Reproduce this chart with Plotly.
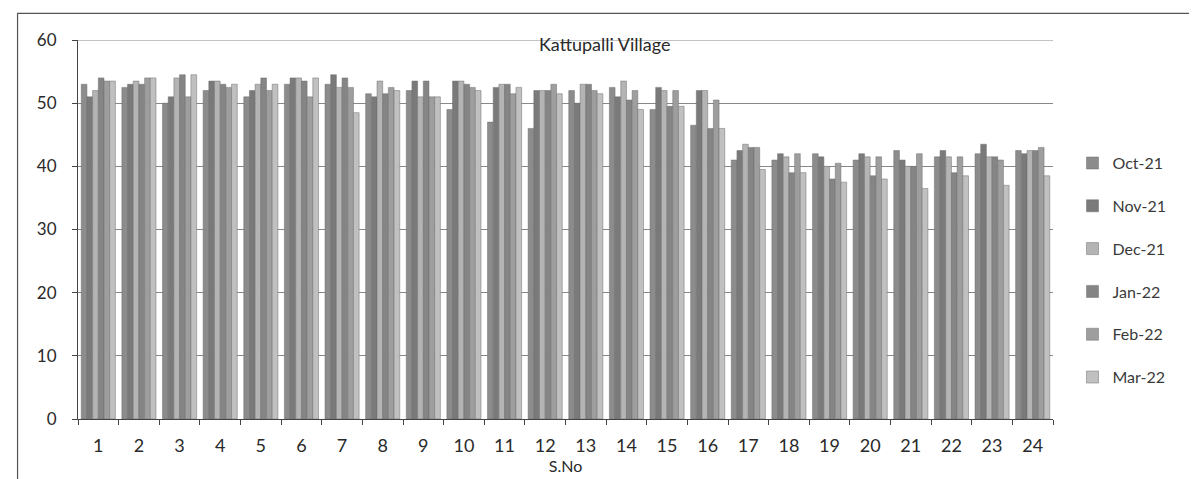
import plotly.graph_objects as go

SNO = [str(i) for i in range(1, 25)]

OCT_21 = [53, 52.5, 50, 52, 51, 53, 53, 51.5, 52, 49, 47, 46, 52, 52.5, 49, 46.5, 41, 41, 42, 41, 42.5, 41.5, 42, 42.5]
NOV_21 = [51, 53, 51, 53.5, 52, 54, 54.5, 51, 53.5, 53.5, 52.5, 52, 50, 51, 52.5, 52, 42.5, 42, 41.5, 42, 41, 42.5, 43.5, 42]
DEC_21 = [52, 53.5, 54, 53.5, 53, 54, 52.5, 53.5, 51, 53.5, 53, 52, 53, 53.5, 52, 52, 43.5, 41.5, 40, 41.5, 40, 41.5, 41.5, 42.5]
JAN_22 = [54, 53, 54.5, 53, 54, 53.5, 54, 51.5, 53.5, 53, 53, 52, 53, 50.5, 49.5, 46, 43, 39, 38, 38.5, 40, 39, 41.5, 42.5]
FEB_22 = [53.5, 54, 51, 52.5, 52, 51, 52.5, 52.5, 51, 52.5, 51.5, 53, 52, 52, 52, 50.5, 43, 42, 40.5, 41.5, 42, 41.5, 41, 43]
MAR_22 = [53.5, 54, 54.5, 53, 53, 54, 48.5, 52, 51, 52, 52.5, 51.5, 51.5, 49, 49.5, 46, 39.5, 39, 37.5, 38, 36.5, 38.5, 37, 38.5]

SERIES = [
    ('Oct-21', OCT_21, '#8c8c8c'),
    ('Nov-21', NOV_21, '#7a7a7a'),
    ('Dec-21', DEC_21, '#b4b4b4'),
    ('Jan-22', JAN_22, '#858585'),
    ('Feb-22', FEB_22, '#9e9e9e'),
    ('Mar-22', MAR_22, '#c0c0c0'),
]

FONT = 'Lato, Open Sans, sans-serif'

fig = go.Figure()
for i, (name, vals, color) in enumerate(SERIES):
    fig.add_trace(go.Bar(x=SNO, y=vals, name=name, legendgroup=str(i),
                         marker=dict(color=color, line=dict(color='#6e6e6e', width=0.5))))

fig.update_layout(
    width=1197, height=479,
    margin=dict(l=70, r=152, t=32, b=68),
    paper_bgcolor='white', plot_bgcolor='white',
    font=dict(family=FONT, size=16, color='#2a2a2a'),
    barmode='group', bargap=0.16, bargroupgap=0,
    showlegend=True,
    legend=dict(x=1.02, y=0.72, yanchor='top', xanchor='left',
                font=dict(size=16, color='#3a3a3a'), tracegroupgap=19,
                itemwidth=30),
    annotations=[dict(text='Kattupalli Village', xref='paper', yref='paper',
                      x=0.54, y=0.99, yanchor='middle', showarrow=False,
                      font=dict(size=18, color='#2a2a2a'))],
    shapes=[
        dict(type='rect', xref='paper', yref='paper',
             x0=-0.062, x1=1.15, y0=-0.16, y1=1.07,
             line=dict(color='#555555', width=1.2)),
        # top gridline at 60, drawn under the title like the original
        dict(type='line', xref='paper', yref='y', x0=0, x1=1, y0=60, y1=60,
             line=dict(color='#888888', width=1), layer='below'),
    ],
)

fig.update_xaxes(
    showline=True, linecolor='#444444', ticks='outside', tickson='boundaries',
    ticklen=5, tickcolor='#444444', tickfont=dict(size=18),
    ticklabelstandoff=10,
    title=dict(text='S.No', font=dict(size=16), standoff=2),
)
fig.update_yaxes(
    range=[0, 60], dtick=10, showline=True, linecolor='#444444',
    ticks='outside', ticklen=5, tickcolor='#444444', tickfont=dict(size=17),
    ticklabelstandoff=12,
    showgrid=True, gridcolor='#888888', gridwidth=1, zeroline=False,
)

fig.write_html('out.html')
